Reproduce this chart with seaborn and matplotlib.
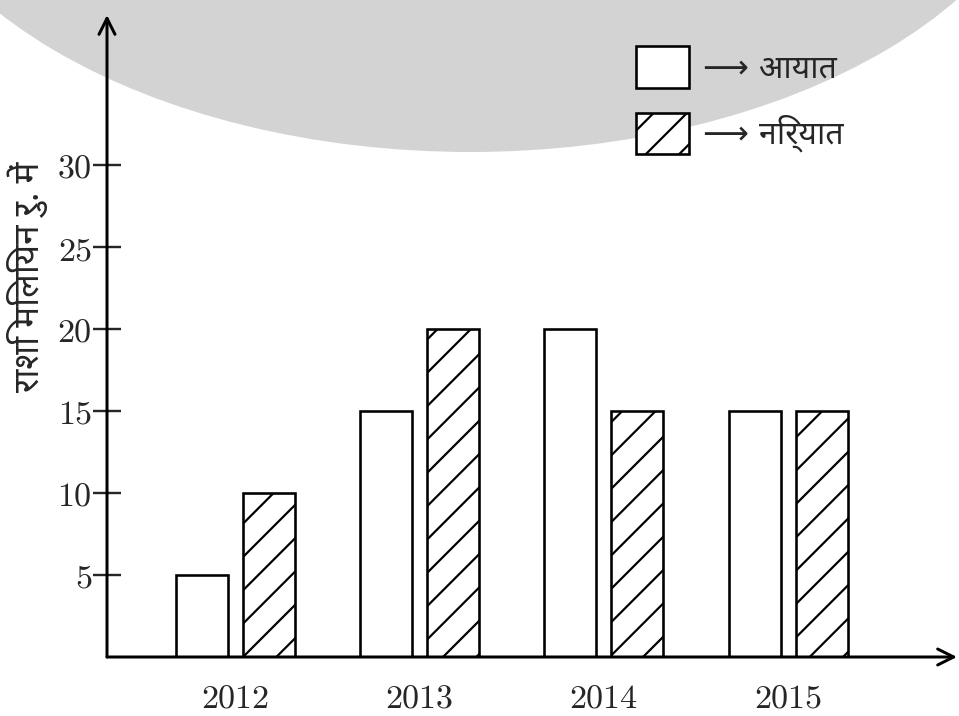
import pandas as pd
import matplotlib
matplotlib.use("Agg")
import matplotlib.pyplot as plt
import matplotlib.patheffects as pe
import seaborn as sns
from matplotlib import font_manager
from matplotlib.ft2font import FT2Font
from matplotlib.patches import Ellipse, Patch

# ---- data -------------------------------------------------------------
years = ["2012", "2013", "2014", "2015"]
imports = [5, 15, 20, 15]          # आयात
exports = [10, 20, 15, 15]         # निर्यात
series_names = ["आयात", "निर्यात"]
y_ticks = [5, 10, 15, 20, 25, 30]
y_label = "राशि मिलियन रु. में"
watermark = "The Vision"

# ---- canvas -----------------------------------------------------------
DPI = 200
W, H = 959, 716


def pt(px):
    """pixel size -> points at the chosen dpi"""
    return px * 72.0 / DPI


def families_with(ch):
    found = set()
    for entry in font_manager.fontManager.ttflist:
        try:
            if ord(ch) in FT2Font(entry.fname).get_charmap():
                found.add(entry.name)
        except Exception:
            pass
    return sorted(found)


deva_fams = families_with("आ")
preferred = ["Noto Sans Devanagari", "Noto Serif Devanagari", "Lohit Devanagari",
             "Mukta", "Hind"]
deva = next((f for f in preferred if f in deva_fams),
            deva_fams[0] if deva_fams else "DejaVu Sans")

sns.set_style("white")
plt.rcParams["mathtext.fontset"] = "cm"
plt.rcParams["hatch.linewidth"] = pt(2.2)
plt.rcParams["font.family"] = ["DejaVu Sans", deva]

df = pd.DataFrame({
    "year": years * 2,
    "value": imports + exports,
    "kind": [series_names[0]] * len(years) + [series_names[1]] * len(years),
})

fig = plt.figure(figsize=(W / DPI, H / DPI), dpi=DPI, facecolor="white")
ax = fig.add_axes([107 / W, 59 / H, (957 - 107) / W, (657 - 15) / H])
ax.set_facecolor("none")

# grey watermark disc with the publisher name, running off the top edge
# (drawn as a path so the part above the canvas is cropped cleanly)
fig.add_artist(Ellipse((470 / W, (H + 198) / H), 1180 / W, 700 / H,
                       transform=fig.transFigure, facecolor="#d3d3d3",
                       edgecolor="none", zorder=-2))
fig.text(585 / W, (H - 13) / H, watermark, ha="center", va="bottom",
         color="white", family=["Liberation Serif", "DejaVu Serif"], weight="bold",
         style="italic", fontsize=pt(148), zorder=-1,
         path_effects=[pe.Normal()])

sns.barplot(data=df, x="year", y="value", hue="kind", hue_order=series_names,
            order=years, palette={series_names[0]: "white", series_names[1]: "white"},
            saturation=1, width=0.728, gap=0.225, errorbar=None,
            edgecolor="black", linewidth=pt(2.6), legend=False, ax=ax)
for bar in ax.containers[1]:
    bar.set_hatch("//")

ax.set_xlim((107 - 235.3) / 184.3, (957 - 235.3) / 184.3)
ax.set_ylim(0, (657 - 15) / 16.4)

# open-headed arrows instead of plain spines
for side in ["top", "right", "left", "bottom"]:
    ax.spines[side].set_visible(False)
arrow = dict(arrowstyle="->", lw=pt(3), color="black", mutation_scale=pt(40),
             shrinkA=0, shrinkB=0)
ax.annotate("", xy=(0, 1), xytext=(0, 0), xycoords="axes fraction", arrowprops=arrow)
ax.annotate("", xy=(1, 0), xytext=(0, 0), xycoords="axes fraction", arrowprops=arrow)

ax.set_yticks(y_ticks, [f"${v}$" for v in y_ticks])
ax.tick_params(axis="y", direction="inout", length=pt(28), width=pt(2.4),
               pad=pt(1), labelsize=pt(34), left=True)
ax.set_xticks(range(len(years)), [f"${y}$" for y in years])
ax.tick_params(axis="x", length=0, pad=pt(25), labelsize=pt(34))
ax.set_xlabel("")
ax.set_ylabel(y_label, family=[deva, "DejaVu Sans"], fontsize=pt(35), va="center")
ax.yaxis.set_label_coords((28 - 107) / 850, (657 - 277) / 642)

# legend: empty box = आयात, hatched box = निर्यात
handles = [Patch(facecolor="white", edgecolor="black", linewidth=pt(2.6),
                 label="⟶ " + series_names[0]),
           Patch(facecolor="white", edgecolor="black", linewidth=pt(2.6), hatch="//",
                 label="⟶ " + series_names[1])]
fs = 32
fig.legend(handles=handles, loc="upper left", bbox_to_anchor=(636 / W, 1 - 46 / H),
           frameon=False, handlelength=53 / fs, handleheight=52 / fs,
           labelspacing=25 / fs, handletextpad=14 / fs, borderpad=0, borderaxespad=0,
           prop={"family": ["DejaVu Sans", deva], "size": pt(fs)})

fig.savefig("out.png", dpi=DPI, facecolor="white")
